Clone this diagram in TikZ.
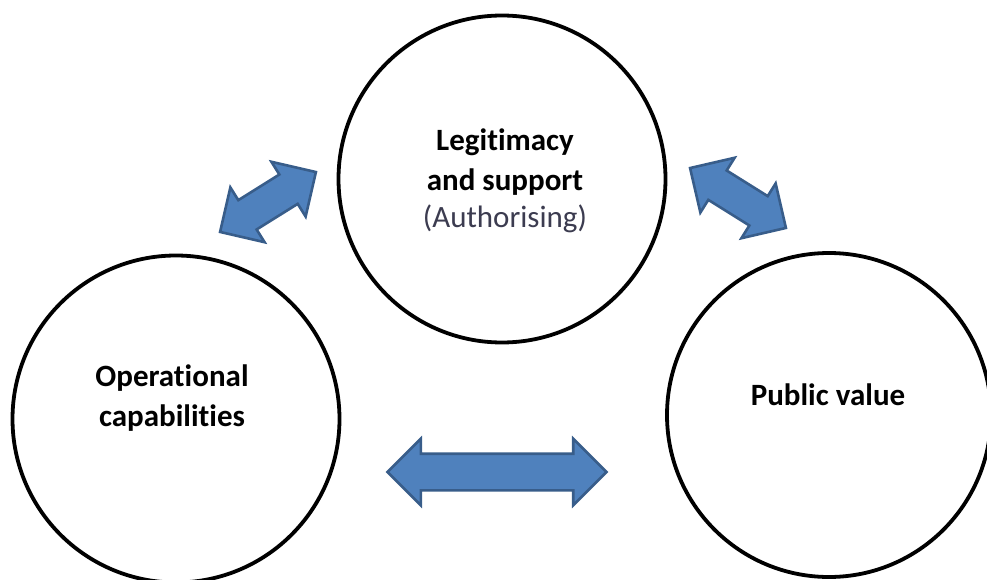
\documentclass[tikz,border=0pt]{standalone}
\usepackage{fontspec}
\setmainfont{Carlito}[Ligatures={NoCommon}]
\usetikzlibrary{shapes.arrows}

\definecolor{arrowfill}{HTML}{4F81BD}
\definecolor{arrowline}{HTML}{385D8A}
\definecolor{subtext}{HTML}{3C3C50}

\tikzset{
  ring/.style={circle, draw=black, line width=3.8pt, fill=white,
    minimum size=#1, inner sep=0pt},
  label text/.style={align=center, font=\fontsize{31}{40}\selectfont\bfseries},
  twoway/.style={double arrow, draw=arrowline, fill=arrowfill, line width=2.6pt,
    inner sep=0pt, inner ysep=#1, double arrow head extend=15pt,
    double arrow tip angle=90},
}

\begin{document}
\begin{tikzpicture}[x=1pt, y=-1pt]
  \useasboundingbox (0,0) rectangle (987,580);
  \clip (0,0) rectangle (987,580);

  % the three circles
  \node[ring=327pt] (auth) at (502,179) {};
  \node[ring=327pt] (ops)  at (176,419) {};
  \node[ring=324pt] (pv)   at (829,415) {};

  % circle texts
  \node[label text] (authtxt) at (505,181)
    {Legitimacy\\and support\\[-3pt]{\mdseries\color{subtext}(Authorising)}};
  \node[label text] (opstxt) at (172,398) {Operational\\capabilities};
  \node[label text] (pvtxt)  at (828,395) {Public value};

  % two-way block arrows between the circles
  \node[twoway=16pt, minimum height=113pt, minimum width=62pt, rotate=32]
    (ops-auth) at (268,202) {};
  \node[twoway=16pt, minimum height=113pt, minimum width=62pt, rotate=-32]
    (auth-pv) at (738,198) {};
  \node[twoway=17pt, minimum height=219pt, minimum width=65pt]
    (ops-pv) at (497,472) {};
\end{tikzpicture}
\end{document}
